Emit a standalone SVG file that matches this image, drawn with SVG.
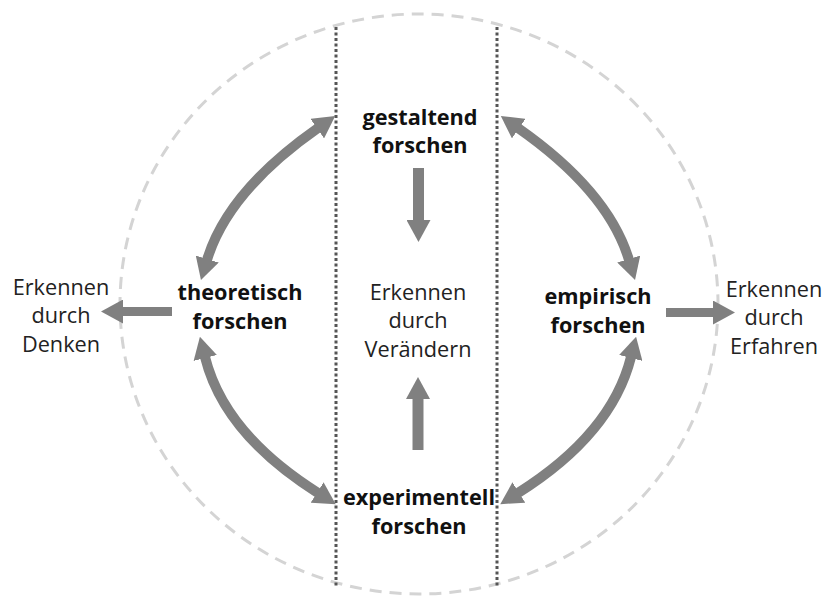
<svg xmlns="http://www.w3.org/2000/svg" width="826" height="597" viewBox="0 0 826 597">
<style>
.lbl{font-family:"Open Sans","Liberation Sans",sans-serif;font-weight:bold;font-size:21.7px;fill:#111;text-anchor:middle}
.txt{font-family:"Open Sans","Liberation Sans",sans-serif;font-size:21.7px;fill:#222;text-anchor:middle}
.arc{fill:none;stroke:#808080;stroke-width:10;marker-start:url(#head);marker-end:url(#head)}
.bar{fill:none;stroke:#808080;stroke-width:10;marker-end:url(#head)}
.dot{stroke:#555;stroke-width:3;stroke-dasharray:3 2.5}
</style>
<defs>
<marker id="head" markerUnits="userSpaceOnUse" viewBox="0 0 22 24" markerWidth="22" markerHeight="24" refX="1" refY="12" orient="auto-start-reverse">
<path d="M0,0 L22,12 L0,24 z" fill="#808080"/>
</marker>
</defs>
<rect width="826" height="597" fill="#fff"/>
<ellipse cx="419" cy="304" rx="299" ry="290" fill="none" stroke="#d4d4d4" stroke-width="3" stroke-dasharray="12 8"/>
<line class="dot" x1="336" y1="27" x2="336" y2="587"/>
<line class="dot" x1="497" y1="27" x2="497" y2="587"/>
<g id="connectors">
<path class="arc" d="M207,260 Q227.6,191.3 318,128"/>
<path class="arc" d="M629,260 Q608.4,191.3 518,128"/>
<path class="arc" d="M205,357 Q224.2,433.9 318,493"/>
<path class="arc" d="M631,357 Q611.8,433.9 518,493"/>
<path class="bar" d="M418.5,168 L418.5,221" style="stroke-width:11"/>
<path class="bar" d="M418,450 L418,398" style="stroke-width:11"/>
<path class="bar" d="M172,311.5 L122,311.5" style="stroke-width:9"/>
<path class="bar" d="M666,312.5 L714,312.5" style="stroke-width:9"/>
</g>
<g id="gestaltend"><text class="lbl" x="420" y="125">gestaltend</text><text class="lbl" x="420" y="153">forschen</text></g>
<g id="theoretisch"><text class="lbl" x="240" y="300">theoretisch</text><text class="lbl" x="240" y="329">forschen</text></g>
<g id="empirisch"><text class="lbl" x="598" y="304">empirisch</text><text class="lbl" x="598" y="333">forschen</text></g>
<g id="experimentell"><text class="lbl" x="419" y="505">experimentell</text><text class="lbl" x="419" y="534">forschen</text></g>
<g id="veraendern"><text class="txt" x="418" y="300">Erkennen</text><text class="txt" x="418" y="328">durch</text><text class="txt" x="418" y="357">Verändern</text></g>
<g id="denken"><text class="txt" x="61" y="295">Erkennen</text><text class="txt" x="61" y="323">durch</text><text class="txt" x="61" y="352">Denken</text></g>
<g id="erfahren"><text class="txt" x="774" y="297">Erkennen</text><text class="txt" x="774" y="325">durch</text><text class="txt" x="774" y="354">Erfahren</text></g>
</svg>
